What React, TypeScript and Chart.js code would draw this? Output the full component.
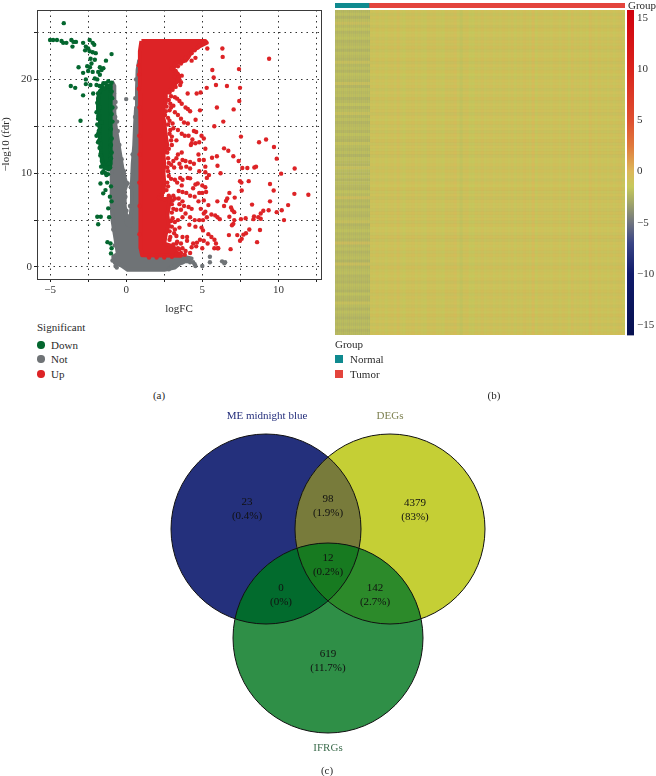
import React, { useEffect, useRef } from "react";
import { Chart, registerables } from "chart.js";

Chart.register(...registerables);

const SERIF = "'Liberation Serif', serif";

// ---------- (a) volcano ----------
const upSparse: number[][] = [
  [9.39,22.2],[6.32,23.3],[6.34,22.4],[5.33,23.3],[5.66,21.0],[7.41,21.1],[5.75,20.2],[5.9,19.4],[6.62,19.3],[7.48,19.1],[5.29,19.1],[4.89,18.6],[4.63,18.5],[4.04,18.5],[7.43,17.7],[5.96,17.0],[7.06,16.8],[4.85,16.7],[6.38,15.5],[4.56,15.7],[5.79,15.0],[7.54,13.9],[9.19,13.6],[8.73,13.3],[9.71,12.8],[6.43,12.65],[6.71,12.4],[7.04,11.8],[5.96,11.8],[5.64,11.65],[9.89,11.55],[7.39,11.3],[6.0,10.8],[8.42,10.6],[8.53,10.7],[7.63,10.55],[7.96,10.55],[11.07,10.5],[6.2,10.0],[10.18,9.95],[5.44,9.8],[7.48,9.15],[7.57,9.0],[8.05,9.15],[9.45,8.85],[9.69,8.15],[7.59,8.15],[6.78,7.9],[11.05,7.8],[11.97,7.7],[7.13,7.4],[6.64,7.3],[6.56,7.05],[9.45,7.0],[5.99,7.0],[8.27,6.65],[10.64,6.6],[6.43,6.5],[6.89,6.35],[6.97,6.05],[7.1,5.85],[10.22,6.05],[9.89,5.85],[9.36,6.05],[9.01,6.0],[8.84,5.7],[8.4,5.4],[8.36,5.1],[7.85,5.2],[7.54,5.1],[7.1,5.0],[10.37,5.0],[8.84,5.15],[8.68,5.3],[6.78,5.35],[7.04,4.6],[6.95,4.45],[8.09,4.0],[7.87,3.6],[7.7,3.45],[8.79,3.95],[7.3,3.4],[6.75,3.4],[7.59,3.0],[7.48,2.8],[8.6,2.65],[6.86,1.9],[6.05,2.0],[5.79,2.0],
  [3.3,20.6],[3.45,20.2],[3.35,19.8],[3.55,19.4],[3.25,19.2],[3.4,20.0],[3.2,18.1],[3.35,17.95],[3.5,17.7],[3.65,17.4],[3.9,17.0],[4.05,16.85],[4.2,16.6],[3.1,17.2],[2.95,17],[3.2,16.5],[2.85,16.7],[3.4,16.2],[3.6,15.8],[3.8,15.4],[4.05,15.3],[2.75,15.9],[3.05,15.3],
  [3.1,14.8],[3.4,14.6],[3.65,14.2],[3.85,14.0],[4.1,14.0],[4.45,14.5],[4.6,14.4],[4.95,14.0],[5.1,13.7],[4.35,13.6],[4.3,13.2],[4.55,13.2],[4.8,13.3],[3,13.9],[3.3,13.5],[3,13],[4.25,13.0],[5.2,12.6],[4.75,12.0],
  [3.65,12.2],[3.4,12.0],[3.3,11.6],[3.1,11.3],[3.5,11.0],[2.95,10.9],[3.15,10.6],[3.7,11.4],[3.9,11.3],[3.95,10.7],[4.2,11.2],[4.45,11.0],[4.8,11.4],[5.1,11.4],[5.2,10.7],[4.8,10.2],[5.2,10.1],[4.2,10.5],[3.6,10.6],
  [2.95,9.4],[3.2,9.3],[3.55,9.5],[3.35,9],[3.7,9.3],[4.05,9.5],[4.2,9.45],[4.55,8.8],[4.7,8.9],[5.0,8.7],[5.2,8.5],[5.3,9.5],[4.4,8.4],[3.65,8.7],[3.45,8.1],[3.7,8.0],[3.95,7.9],[4.2,7.6],[4.8,7.9],[5.0,7.9],[5.25,8.0],
  [3.1,7.6],[3.2,7.3],[3.45,7.3],[3.7,7.0],[4.5,7.5],[4.75,7],[5.1,7.1],[5.4,6.6],[5.2,5.9],[3.5,6.7],[3.8,6.5],[4.1,6.4],[3.6,6.1],[3.9,5.7],[3.3,6.1],[4.3,6.2],[4.9,6.2],[5.1,5.7],[5.6,5.6],[5.85,5.5],[6.0,5.3],[6.15,5.1],
  [3.7,5.3],[3.4,5.0],[3.2,4.8],[4.2,5.3],[4.5,5.0],[4.8,5],[5.05,5.0],[5.3,5.3],[3.2,4.0],[3.5,4.2],[3.15,3.6],[4.15,4.5],[4.55,4.3],[4.95,4.2],[5.05,3.9],[3.3,3.3],[3.7,3.2],[4.0,3.2],[5.4,3.5],[5.6,3.2],[5.8,2.9],
  [3.35,2.7],[3.6,2.5],[4.0,2.8],[4.4,2.5],[4.65,2.6],[4.85,2.9],[5.1,2.8],[5.35,2.5],[4.3,2.1],[4.6,2.2],[3.7,2.0],[3.4,2.0],[3.9,1.7],[4.2,1.5],[5,2.0],[5.9,2.5],[6,2.0],
];
const upEdge: number[][] = [
  [4.7,23.4],[4.5,23.1],[4.8,23.6],[4.3,22.8],[4.55,22.3],[4.3,22.0],[3.9,22.3],[3.6,21.7],[3.4,21.4],[3.25,20.9],[3.0,21.2],[3.65,20.4],[3.2,20.3],[3.6,19.7],[3.15,19.5],[3.05,18.9],[2.85,18.6],[2.95,18.2],[2.8,17.8],[2.9,17.4],[2.65,17.1],[2.6,16.6],[2.55,16.2],[2.85,15.6],[2.75,15.2],[2.9,14.6],[2.85,14.2],[2.95,13.5],[2.8,12.6],[2.7,12.2],[2.75,11.6],[2.8,11.1],[2.7,10.6],[2.75,10.2],[2.8,9.7],[2.7,9.0],[2.75,8.6],[2.65,8.2],[2.35,7.6],[2.8,7.6],[3.05,7.1],[3.0,6.7],[3.1,6.2],[3.0,5.8],[3.05,5.2],[2.95,4.9],[3.0,4.3],[2.85,3.8],[2.9,3.2],[2.85,2.9],[3.3,2.5],[3.1,2.4],[3.5,1.9],[3.6,1.5],[3.85,1.3],[3.3,1.4],[2.5,1.0],[2.0,1.0],[1.5,1.0],[3.0,1.1],
  [0.82,21.5],[0.85,20.5],[0.83,19],[0.87,17],[0.86,14],[0.88,12],[0.86,9],[0.88,6.5],[0.87,3.5],
];
const upCloud: number[][] = [
  [1.0,24.1],[5.2,24.1],[5.3,23.9],[4.8,23.5],[4.3,23],[4.1,22.4],[3.9,22],[3.2,21.7],[3.1,21],[3.4,20.6],[3.5,20],[3.2,19.5],[3.0,19],[2.6,18.5],[2.6,17.5],[2.35,16.5],[2.5,15.5],[2.6,14],[2.7,13],[2.45,12],[2.5,11],[2.45,10],[2.5,9],[2.45,8],[2.15,7.4],[2.5,7.2],[2.9,7.4],[2.8,6.5],[2.7,5.5],[2.8,4.5],[2.6,3.5],[2.5,2.5],[3.1,2.2],[3.3,1.6],[3.6,1.2],[1.05,1.25],[0.95,2],[0.93,5],[0.93,10],[0.95,15],[0.9,20],[0.9,23],[1.0,24.1],
];
const downSparse: number[][] = [
  [-4.1,26.0],[-5.0,24.2],[-4.8,24.2],[-4.55,24.2],[-4.25,24.1],[-4.14,23.9],[-3.93,23.9],[-3.6,24.2],[-3.46,24],[-3.53,23.5],[-3.3,24],[-2.83,23.9],[-2.4,24.2],[-2.2,23.9],[-2.1,23.7],[-2.65,23.5],[-2.5,23.3],[-2.7,23.1],[-2.4,23],[-2.2,22.9],[-2,22.8],[-0.96,22.7],[-2.34,22.2],[-2.06,22.1],[-2.28,21.7],[-1.33,22],[-3.13,21.3],[-2.56,21.4],[-2.38,21.3],[-1.73,21.3],[-1.5,21.2],[-2.5,20.9],[-1.84,20.8],[-1.62,21],[-2.83,20.7],[-2.2,20.8],[-1.73,20.5],[-2.65,20],[-2.06,20.1],[-1.9,20],[-3.64,19.3],[-3.35,19.1],[-2.65,19.5],[-2.35,19.4],[-1.95,19.4],[-1.5,19.6],[-1.18,19.8],[-0.96,19.65],[-1.25,19.2],[-2.83,18.3],[-2.17,18.5],[-1.73,18.7],[-3,15.6],[-1.84,16.1],[-1.62,15.4],[-1.84,14.2],[-1.78,13.5],[-1.67,12.1],[-1.55,11],[-1.58,10.05],[-1.69,8.9],[-1.25,9],[-1,8.6],[-1.36,8.2],[-1.51,7.85],[-1.07,7.5],[-0.96,7],[-1.18,6.25],[-1.9,5.35],[-1.67,5.35],[-1.84,4.55],[-1.12,5.3],[-1.23,2.65],[-1.03,2.5],[-0.96,2],[-1,1.45],
  [-1.9,17.5],[-1.85,18.5],[-1.75,17],[-1.95,16.5],[-1.85,15.8],[-1.75,15],[-1.9,15.2],[-1.8,14.5],[-1.95,14],[-1.85,13.3],[-1.75,12.7],[-1.7,11.9],[-1.6,11.3],[-1.65,10.7],[-1.5,10.2],[-1.35,10],[-1.2,9.9],[-1.15,11],[-1.3,9.8],[-1.45,19],[-1.6,19.3],[-1.75,19.3],[-1.35,19.6],[-1.05,19.2],[-0.95,18.7],[-0.92,18],[-0.9,17],[-0.95,16.3],[-0.9,15.5],[-1.0,14.7],[-0.95,13.7],[-1.0,13],[-0.95,12.2],[-1.0,11.6],[-1.05,10.6],
];
const downCloud: number[][] = [
  [-1.4,19.2],[-1.05,19.4],[-1.0,18],[-1.0,16],[-1.0,14],[-1.05,12.5],[-1.05,11],[-1.15,10.4],[-1.45,10.6],[-1.6,11.5],[-1.7,13],[-1.75,14.5],[-1.72,15.5],[-1.8,16.5],[-1.85,18],[-1.7,18.8],[-1.4,19.2],
];
const notSparse: number[][] = [
  [0,17.9],[-0.8,18.5],[-0.85,19],[-0.7,17.6],[-0.7,0.1],[-0.62,-0.05],[3.4,0.3],[3.7,0.5],[4,0.6],[4.2,0.5],[4.4,0.5],[4.5,0.3],[4.55,0.1],[5,0.1],[5.5,0.5],[5.5,1.1],[6.3,0.6],[6.45,0.4],[6.5,0.5],[3.1,1.0],[2.9,1.0],[3.0,0.0],
  [-0.55,14.5],[-0.45,13],[-0.3,11.5],[-0.15,10.2],[0.02,9.0],[0.1,8.9],[-0.05,7.5],[0.02,6],[0.25,6.5],[0.3,8.5],[0.42,12],[0.58,16],[0.6,18],[0.65,20],[-0.72,16],[-0.7,17],[-0.6,15.5],[3.7,0.9],[3.9,1.0],[3.2,0.2],[2.8,-0.25],[-0.9,0.7],[-0.75,2.3],[-0.85,4],
];
const notCloud: number[][] = [
  [-0.95,19.8],[-0.78,19.3],[-0.78,18],[-0.78,16.5],[-0.7,15],[-0.55,13.5],[-0.4,12],[-0.25,10.5],[-0.05,9.2],[0,8.7],[-0.1,8.2],[-0.1,6.5],[0,5.5],[0.05,4.6],[0.25,4.4],[0.3,5.5],[0.38,7],[0.38,9],[0.43,11],[0.53,13],[0.58,15],[0.65,17],[0.71,19],[0.75,21],[0.85,22],[1.1,22],[1.1,1.3],[3.4,1.2],[4.3,0.9],[3.5,0.35],[3.2,-0.05],[2.5,-0.3],[0.1,-0.3],[-0.3,0.15],[-0.75,0.45],[-0.85,1.1],[-0.55,1.4],[-0.7,3],[-0.9,5],[-0.95,6.5],[-0.95,8],[-0.95,10],[-1.0,11.5],[-1.0,13],[-1.0,15],[-1.0,16.5],[-1.0,18],[-0.95,19.8],
];
const volcanoXLabels = [-5, 0, 5, 10];
const volcanoYLabels = [0, 10, 20];
const COLOR_UP = "#dd2326";
const COLOR_DOWN = "#04672f";
const COLOR_NOT = "#6f7376";

// ---------- (b) heatmap ----------
const tumorColumns = [
  -1.1,-1.3,-0.9,-1.2,-1.0,-1.4,-1.1,-0.9,-1.3,-0.7,-1.2,-1.5,-1.0,-1.1,-0.8,-1.3,-1.0,-1.2,-1.4,-0.9,
  -1.1,-0.9,-1.3,-1.2,-1.5,-0.9,-1.1,-1.0,-0.7,-1.3,-1.7,-1.1,-0.9,-1.4,-1.5,-1.0,-1.2,-0.8,-1.3,-1.1,
  -0.9,-1.3,-1.0,-1.2,-0.9,-1.1,-1.3,-0.9,-1.4,-1.0,-1.2,-0.8,-1.1,-1.3,-0.5,-1.5,-1.0,-0.9,-1.2,-1.1,
  -1.3,-0.9,-1.0,-1.3,-0.9,-1.1,-1.5,-0.7,-1.2,-1.0,-1.3,-1.1,-1.4,-0.6,-1.0,-1.3,-0.9,-1.2,-1.1,-1.3,
  -0.9,-1.2,-1.0,-0.8,-1.3,
];
const tumorRows = [
  0.6,-3.2,1.2,-2.6,0.2,-3.4,1.6,-1.8,0.4,-3.0,1.0,-2.4,1.8,-3.2,0.2,-2.0,1.4,-3.4,0.6,-2.8,
  1.6,-1.6,-3.0,0.8,-2.2,1.2,-3.2,0.4,-2.6,1.8,-3.0,0.2,-2.4,1.2,-3.4,0.8,-1.8,1.6,-2.8,0.4,
  -3.2,1.0,-2.2,1.8,-3.0,0.6,-2.6,1.4,-3.4,0.2,-2.0,1.2,-3.0,1.6,-2.4,0.4,-3.2,1.0,-1.6,1.8,
  -2.8,0.6,-3.4,1.2,-2.2,0.2,-3.0,1.6,-2.6,0.8,-3.2,1.4,-1.8,0.4,-2.8,1.8,-3.4,0.6,-2.0,1.0,
  -3.0,1.4,-2.4,0.2,-3.2,1.8,-2.6,0.8,-1.8,1.2,-3.4,0.4,-2.2,1.6,-3.0,1.0,-2.6,0.2,-3.2,1.2,
  -2.0,1.8,-2.8,0.6,-3.4,1.0,-2.4,1.4,
];
const normalRows = [
  -2.3,-1.8,-2.6,-1.9,-0.8,-2.1,-1.6,-2.4,-2.0,-1.7,-2.5,-2.2,-1.9,-2.6,-1.8,-2.1,-2.4,-1.0,-2.3,-1.9,
  -2.5,-1.7,-2.0,-2.3,-0.9,-2.4,-1.8,-2.1,-1.9,-2.6,-2.2,-1.6,-2.4,-2.0,-1.1,-2.3,-1.8,-2.5,-2.1,-1.9,
  -2.4,-1.7,-2.2,-2.5,-1.2,-2.0,-2.3,-1.9,-2.6,-1.8,-2.1,-2.4,-1.0,-2.0,-2.3,-1.8,-2.5,-1.9,-2.2,-2.4,
  -1.6,-2.1,-0.6,-2.3,-2.0,-2.6,-1.8,-2.2,-2.4,-1.9,-1.0,-2.5,-2.1,-1.7,-2.3,-2.0,-2.4,-0.4,-2.2,-1.8,
  -2.5,-2.1,-1.9,-2.6,-0.8,-2.3,-2.0,-1.8,-2.4,-2.2,-2.5,-1.9,-2.1,-2.6,-1.7,-2.3,-2.4,-1.1,-2.0,-2.5,
  -1.8,-2.2,-2.6,-2.0,-2.3,-1.9,-2.5,-2.1,
];
const normalColumns = [-3,-1,-3.2,-0.8,-2.8,-1.2,-3,-0.6,-3.2,-1,-2.8,-1.2,-3,-0.8,-3.2,-1,-2.8,-0.6,-3,-1.2,-3.2,-0.8,-2.8,-1,-3,-1.2,-3.2,-0.6,-2.8,-1,-3,-0.8,-3.2,-1.2,-2.8];
const colorStops: [number, string][] = [
  [15.75,"#d0000e"],[10,"#d9231c"],[5,"#de4f30"],[2.5,"#e0793c"],[0,"#dcb85a"],[-1.5,"#c6c95c"],[-3,"#a3a869"],[-5,"#70757f"],[-7,"#3a4585"],[-10,"#0f1a6a"],[-16,"#06104f"],
];
const colorbarTicks = [15, 10, 5, 0, -5, -10, -15];
const groupSizes = [60, 452];
const groupNames = ["Normal", "Tumor"];
const groupColors = ["#0f8a8f", "#e3443c"];

function hexRgb(h: string) {
  return [1, 3, 5].map((i) => parseInt(h.slice(i, i + 2), 16));
}
function colorOf(v: number) {
  for (let i = 0; i < colorStops.length - 1; i++) {
    const [a, ca] = colorStops[i];
    const [b, cb] = colorStops[i + 1];
    if (v <= a && v >= b) {
      const t = (v - b) / (a - b);
      const A = hexRgb(ca), B = hexRgb(cb);
      return `rgb(${B.map((c, k) => Math.round(c + (A[k] - c) * t)).join(",")})`;
    }
  }
  return colorStops[0][1];
}
const withAlpha = (c: string, a: number) => c.replace("rgb(", "rgba(").replace(")", `,${a})`);

// ---------- (c) venn ----------
const vennSets = ["ME midnight blue", "DEGs", "IFRGs"];
const vennX = [-62, 62, 0];
const vennY = [55, 55, -54];
const vennR = [95, 95, 95];
const vennSetColors = ["#252f7c", "#7d8050", "#3f6e4f"];
const vennSetLabelX = [-61, 62, 0];
const vennSetLabelY = [168, 168, -164];
const vennRegions: { sets: number[]; color: string }[] = [
  { sets: [0], color: "#24307c" },
  { sets: [1], color: "#c5cf35" },
  { sets: [2], color: "#2f8f47" },
  { sets: [0, 1], color: "#787b3b" },
  { sets: [0, 2], color: "#026b2d" },
  { sets: [1, 2], color: "#2c8a2a" },
  { sets: [0, 1, 2], color: "#177a20" },
];
const vennCounts = ["23", "4379", "619", "98", "0", "142", "12"];
const vennPercents = ["(0.4%)", "(83%)", "(11.7%)", "(1.9%)", "(0%)", "(2.7%)", "(0.2%)"];
const vennLabelX = [-81, 87, 0, 0, -47, 47, 0];
const vennLabelY = [82, 81, -70, 85, -4, -4, 26];

const frame = {
  id: "frame",
  afterDraw(c: any) {
    const { left, top, width, height } = c.chartArea;
    c.ctx.save();
    c.ctx.strokeStyle = "#3a3a3a";
    c.ctx.lineWidth = 1;
    c.ctx.strokeRect(left + 0.5, top + 0.5, width, height);
    c.ctx.restore();
  },
};

const vennPaint = {
  id: "vennPaint",
  beforeDatasetsDraw(c: any) {
    const ctx = c.ctx;
    const circles = c.data.datasets.map((_: any, i: number) => c.getDatasetMeta(i).data[0]);
    for (const reg of vennRegions) {
      ctx.save();
      for (const s of reg.sets) {
        const el = circles[s];
        ctx.beginPath();
        ctx.arc(el.x, el.y, el.options.radius, 0, Math.PI * 2);
        ctx.clip();
      }
      ctx.fillStyle = reg.color;
      ctx.fillRect(0, 0, c.width, c.height);
      ctx.restore();
    }
  },
  afterDatasetsDraw(c: any) {
    const ctx = c.ctx;
    const sx = c.scales.x, sy = c.scales.y;
    ctx.save();
    ctx.textAlign = "center";
    ctx.textBaseline = "middle";
    ctx.font = `11px ${SERIF}`;
    ctx.fillStyle = "#111";
    vennCounts.forEach((t, i) => {
      ctx.fillText(t, sx.getPixelForValue(vennLabelX[i]), sy.getPixelForValue(vennLabelY[i]));
      ctx.fillText(vennPercents[i], sx.getPixelForValue(vennLabelX[i]), sy.getPixelForValue(vennLabelY[i] - 13.7));
    });
    vennSets.forEach((t, i) => {
      ctx.fillStyle = vennSetColors[i];
      ctx.fillText(t, sx.getPixelForValue(vennSetLabelX[i]), sy.getPixelForValue(vennSetLabelY[i]));
    });
    ctx.restore();
  },
};

function toXY(a: number[][]) {
  return a.map(([x, y]) => ({ x, y }));
}
const cloud = (label: string, pts: number[][], color: string) => ({
  label, data: toXY(pts), showLine: true, fill: "shape", tension: 0,
  backgroundColor: color, borderColor: color, borderWidth: 4, borderJoinStyle: "round", pointRadius: 0,
});
const dots = (label: string, pts: number[][], color: string) => ({
  label, data: toXY(pts), showLine: false, backgroundColor: color, borderColor: color, pointRadius: 2.2, borderWidth: 0,
});
const fmt = (v: number) => (v < 0 ? "\u2212" + Math.abs(v) : String(v));
const hiddenOpts = { animation: false, responsive: false, maintainAspectRatio: false, events: [] as string[] };
const noPlugins = { legend: { display: false }, tooltip: { enabled: false } };

function useChart(make: (c: HTMLCanvasElement) => Chart) {
  const ref = useRef<HTMLCanvasElement>(null);
  useEffect(() => {
    const ch = make(ref.current!);
    return () => ch.destroy();
  }, []);
  return ref;
}

const heatStrips = (cv: HTMLCanvasElement, values: number[], horizontal: boolean, alpha: number) =>
  new Chart(cv, {
    type: "bar",
    data: {
      labels: values.map((_, i) => String(i)),
      datasets: [{
        label: "cells", data: values.map(() => [0, 1]) as any,
        backgroundColor: values.map((v) => (alpha < 1 ? withAlpha(colorOf(v), alpha) : colorOf(v))),
        barPercentage: 1, categoryPercentage: 1, borderWidth: 0,
      }],
    },
    options: {
      ...hiddenOpts, indexAxis: horizontal ? "y" : "x", plugins: noPlugins,
      scales: horizontal
        ? { x: { display: false, min: 0, max: 1 }, y: { display: false } }
        : { y: { display: false, min: 0, max: 1 }, x: { display: false } },
    } as any,
  });

const place = (left: number, top: number, w: number, h: number): React.CSSProperties => ({
  position: "absolute", left, top, width: w, height: h, display: "block",
});
const Txt = ({ x, y, children, center, color }: any) => (
  <div style={{
    position: "absolute", left: x, top: y, transform: center ? "translate(-50%,-50%)" : "translateY(-50%)",
    font: `11px ${SERIF}`, color: color || "#2a2a2a", whiteSpace: "nowrap", lineHeight: 1,
  }}>{children}</div>
);
const Dot = ({ x, y, color }: any) => (
  <div style={{ position: "absolute", left: x - 3.7, top: y - 3.7, width: 7.4, height: 7.4, borderRadius: "50%", background: color }} />
);
const Sw = ({ x, y, color }: any) => (
  <div style={{ position: "absolute", left: x, top: y - 4, width: 8, height: 8, background: color }} />
);

export default function App() {
  const volcano = useChart((cv) => new Chart(cv, {
    type: "scatter",
    data: { datasets: [
      dots("Up", upSparse, COLOR_UP), dots("Up edge", upEdge, COLOR_UP), cloud("Up cloud", upCloud, COLOR_UP),
      dots("Down", downSparse, COLOR_DOWN), cloud("Down cloud", downCloud, COLOR_DOWN),
      dots("Not", notSparse, COLOR_NOT), cloud("Not cloud", notCloud, COLOR_NOT),
    ] as any },
    options: {
      ...hiddenOpts,
      layout: { padding: { top: 10, right: 9, left: 0, bottom: 0 } },
      plugins: noPlugins,
      scales: {
        x: {
          type: "linear", min: -5.86, max: 12.8,
          afterFit: (s: any) => { s.height = 37; },
          title: { display: true, text: "logFC", font: { family: SERIF, size: 11 }, color: "#2a2a2a", padding: { top: 1, bottom: 0 } },
          ticks: {
            stepSize: 2.5, includeBounds: false, autoSkip: false, maxRotation: 0, padding: 2,
            font: { family: SERIF, size: 11 }, color: "#333",
            callback: (v: any) => (volcanoXLabels.includes(Number(v)) ? fmt(Number(v)) : ""),
          },
          grid: { color: "#333", tickColor: "#222", tickLength: 3, lineWidth: 1 },
          border: { dash: [1.5, 4], display: false },
        },
        y: {
          type: "linear", min: -1.28, max: 27.4,
          afterFit: (s: any) => { s.width = 37; },
          title: { display: true, text: "\u2212log10 (fdr)", font: { family: SERIF, size: 11 }, color: "#2a2a2a", padding: { top: 0, bottom: 2 } },
          ticks: {
            stepSize: 5, includeBounds: false, autoSkip: false, padding: 2,
            font: { family: SERIF, size: 11 }, color: "#333",
            callback: (v: any) => (volcanoYLabels.includes(Number(v)) ? fmt(Number(v)) : ""),
          },
          grid: { color: "#333", tickColor: "#222", tickLength: 3, lineWidth: 1 },
          border: { dash: [1.5, 4], display: false },
        },
      },
    } as any,
    plugins: [frame],
  }));

  const annotation = useChart((cv) => new Chart(cv, {
    type: "bar",
    data: {
      labels: ["Group"],
      datasets: groupNames.map((n, i) => ({ label: n, data: [groupSizes[i]], backgroundColor: groupColors[i], barPercentage: 1, categoryPercentage: 1, borderWidth: 0 })),
    },
    options: {
      ...hiddenOpts, indexAxis: "y", plugins: noPlugins,
      scales: {
        x: { display: false, stacked: true, min: 0, max: groupSizes[0] + groupSizes[1] },
        y: { display: false, stacked: true },
      },
    } as any,
  }));

  const normal = useChart((cv) => heatStrips(cv, normalRows, true, 1));
  const normalOver = useChart((cv) => heatStrips(cv, normalColumns, false, 0.3));
  const tumor = useChart((cv) => heatStrips(cv, tumorColumns, false, 1));
  const tumorOver = useChart((cv) => heatStrips(cv, tumorRows, true, 0.1));

  const colorbar = useChart((cv) => new Chart(cv, {
    type: "bar",
    data: {
      labels: ["value"],
      datasets: [{
        label: "scale",
        data: [[colorStops[colorStops.length - 1][0], colorStops[0][0]]] as any,
        barPercentage: 1, categoryPercentage: 1, borderWidth: 0,
        backgroundColor: (ctx: any) => {
          const { chart } = ctx;
          if (!chart.chartArea) return colorStops[0][1];
          const sy = chart.scales.y;
          const top = sy.getPixelForValue(colorStops[0][0]);
          const bot = sy.getPixelForValue(colorStops[colorStops.length - 1][0]);
          const g = chart.ctx.createLinearGradient(0, top, 0, bot);
          colorStops.forEach(([v, c]) => g.addColorStop((sy.getPixelForValue(v) - top) / (bot - top), c));
          return g;
        },
      }],
    },
    options: {
      ...hiddenOpts,
      layout: { padding: { top: 10, bottom: 8 } },
      plugins: noPlugins,
      scales: {
        x: { display: false },
        y: {
          position: "right", min: -16, max: 15.75,
          afterFit: (s: any) => { s.width = 22; },
          afterBuildTicks: (s: any) => { s.ticks = colorbarTicks.map((value) => ({ value })); },
          grid: { display: false, drawTicks: false },
          border: { display: false },
          ticks: { crossAlign: "near", padding: 3, autoSkip: false, font: { family: SERIF, size: 11 }, color: "#333", callback: (v: any) => fmt(Number(v)) },
        },
      },
    } as any,
  }));

  const venn = useChart((cv) => new Chart(cv, {
    type: "bubble",
    data: {
      datasets: vennSets.map((n, i) => ({
        label: n,
        data: [{ x: vennX[i], y: vennY[i], r: vennR[i] }],
        backgroundColor: "rgba(0,0,0,0)", borderColor: "#111", borderWidth: 1, clip: false,
      })),
    },
    options: {
      ...hiddenOpts, plugins: noPlugins,
      layout: { autoPadding: false, padding: 0 },
      scales: { x: { display: false, min: -328, max: 328 }, y: { display: false, min: -192, max: 184 } },
    } as any,
    plugins: [vennPaint],
  }));

  return (
    <div style={{ position: "absolute", left: 0, top: 0, width: 656, height: 776, background: "#fff", overflow: "hidden" }}>
      <canvas ref={volcano} width={330} height={316} style={place(0, 0, 330, 316)} />
      <Txt x={37} y={327}>Significant</Txt>
      <Dot x={41} y={345} color={COLOR_DOWN} /><Txt x={51} y={345}>Down</Txt>
      <Dot x={41} y={359} color={COLOR_NOT} /><Txt x={51} y={359}>Not</Txt>
      <Dot x={41} y={374} color={COLOR_UP} /><Txt x={51} y={374}>Up</Txt>
      <Txt x={159} y={395} center>(a)</Txt>

      <canvas ref={annotation} width={290} height={5} style={place(335, 3, 290, 5)} />
      <canvas ref={normal} width={35} height={325} style={place(335, 10, 35, 325)} />
      <canvas ref={normalOver} width={35} height={325} style={place(335, 10, 35, 325)} />
      <canvas ref={tumor} width={255} height={325} style={place(370, 10, 255, 325)} />
      <canvas ref={tumorOver} width={255} height={325} style={place(370, 10, 255, 325)} />
      <canvas ref={colorbar} width={29} height={345} style={place(627, 0, 29, 345)} />
      <Txt x={628} y={5}>Group</Txt>
      <Txt x={335} y={344}>Group</Txt>
      <Sw x={335} y={359} color={groupColors[0]} /><Txt x={350} y={359}>{groupNames[0]}</Txt>
      <Sw x={335} y={374} color={groupColors[1]} /><Txt x={350} y={374}>{groupNames[1]}</Txt>
      <Txt x={494} y={395} center>(b)</Txt>

      <canvas ref={venn} width={656} height={376} style={place(0, 400, 656, 376)} />
      <Txt x={327} y={770} center>(c)</Txt>
    </div>
  );
}
